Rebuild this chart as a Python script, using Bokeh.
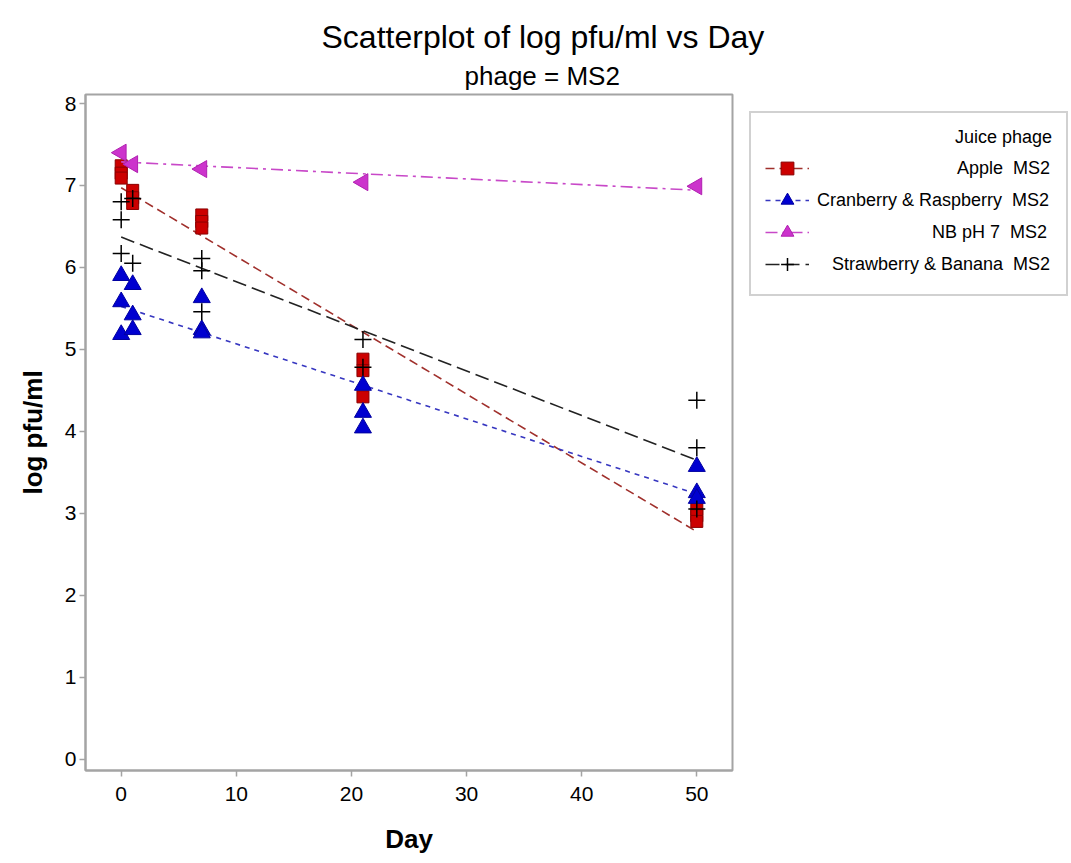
import numpy as np
from bokeh.plotting import figure
from bokeh.models import Legend, LegendItem, Title, Range1d, FixedTicker
from bokeh.embed import file_html
from bokeh.resources import INLINE

# ---- data ----
apple_day = [0, 0, 0, 1, 1, 1, 7, 7, 7, 21, 21, 21, 50, 50, 50]
apple_log = [7.24, 7.15, 7.09, 6.94, 6.85, 6.78, 6.64, 6.56, 6.48, 4.88, 4.74, 4.42, 3.05, 2.97, 2.90]

cran_day = [0, 0, 0, 1, 1, 1, 7, 7, 7, 21, 21, 21, 50, 50, 50]
cran_log = [5.90, 5.58, 5.18, 5.79, 5.42, 5.24, 5.63, 5.24, 5.20, 4.56, 4.23, 4.04, 3.57, 3.25, 3.18]

nb_day = [0, 1, 7, 21, 50]
nb_log = [7.40, 7.26, 7.20, 7.04, 6.99]

straw_day = [0, 0, 0, 1, 1, 7, 7, 7, 21, 21, 50, 50, 50]
straw_log = [6.80, 6.58, 6.17, 6.84, 6.05, 6.11, 5.96, 5.46, 5.12, 4.78, 4.38, 3.80, 3.05]

juice_names = ["Apple", "Cranberry & Raspberry", "NB pH 7", "Strawberry & Banana"]
phage = "MS2"
x_ticks = [0, 10, 20, 30, 40, 50]
y_ticks = [0, 1, 2, 3, 4, 5, 6, 7, 8]

FONT = "Liberation Sans"
GREY = "#a4a4a4"

p = figure(frame_width=647, frame_height=676, output_backend="svg", toolbar_location=None,
           x_range=Range1d(-3.1, 53.1), y_range=Range1d(-0.14, 8.11),
           min_border_left=85, min_border_right=0, min_border_top=94,
           min_border_bottom=93, background_fill_color="white",
           border_fill_color="white")
p.title = None
p.grid.visible = False
p.outline_line_color = GREY
p.outline_line_width = 2

for ax in (p.xaxis[0], p.yaxis[0]):
    ax.axis_line_color = GREY
    ax.axis_line_width = 2
    ax.major_tick_line_color = GREY
    ax.major_tick_line_width = 1.5
    ax.major_tick_out = 6
    ax.major_tick_in = 0
    ax.minor_tick_line_color = None
    ax.major_label_text_font = FONT
    ax.major_label_text_font_size = "21px"
    ax.major_label_text_color = "black"
    ax.axis_label_text_font = FONT
    ax.axis_label_text_font_size = "26px"
    ax.axis_label_text_font_style = "bold"
    ax.axis_label_text_color = "black"

p.xaxis.ticker = FixedTicker(ticks=x_ticks)
p.yaxis.ticker = FixedTicker(ticks=y_ticks)
p.xaxis.axis_label = "Day"
p.yaxis.axis_label = "log pfu/ml"
p.xaxis.major_label_standoff = 10
p.xaxis.axis_label_standoff = 20
p.yaxis.major_label_standoff = 3
p.yaxis.axis_label_standoff = 14

# titles (subtitle first -> closest to plot); shifted to be centred on the page
p.add_layout(Title(text="phage = " + phage, align="left", offset=379,
                   text_font=FONT, text_font_size="26px", text_font_style="normal",
                   text_color="black", standoff=8), "above")
p.add_layout(Title(text="Scatterplot of log pfu/ml vs Day", align="left", offset=236,
                   text_font=FONT, text_font_size="32px", text_font_style="normal",
                   text_color="black", standoff=0), "above")

groups = [
    (apple_day, apple_log, dict(marker="square", size=12, fill_color="#cc0000",
                                line_color="#8a0000"),
     dict(line_color="#a0302c", line_dash="9 5")),
    (cran_day, cran_log, dict(marker="triangle", size=17, fill_color="#0000d0",
                              line_color="#0000a0"),
     dict(line_color="#3636c0", line_dash="5 5")),
    (nb_day, nb_log, dict(marker="triangle", size=17, angle=np.pi / 2,
                          fill_color="#cc33cc", line_color="#b020b0"),
     dict(line_color="#c848c8", line_dash="12 5 3 5")),
    (straw_day, straw_log, dict(marker="cross", size=17, fill_color=None,
                                line_color="black", line_width=1.5),
     dict(line_color="#222222", line_dash="14 6")),
]

items = []
for name, (xd, yd, mk, ln) in zip(juice_names, groups):
    xs = np.array(xd, dtype=float)
    ys = np.array(yd, dtype=float)
    slope, intercept = np.polyfit(xs, ys, 1)
    fx = np.array([xs.min(), xs.max()])
    lr = p.line(fx, intercept + slope * fx, line_width=1.6, **ln)
    sr = p.scatter(xs, ys, **mk)
    items.append((name, lr, sr))

# right-aligned legend labels (padded with no-break spaces)
pad = {"Apple": 28, "Cranberry & Raspberry": 0, "NB pH 7": 23, "Strawberry & Banana": 3}
legend_items = [LegendItem(label="\u00a0" * pad[n] + n + "\u00a0\u00a0" + phage,
                           renderers=[lr, sr]) for n, lr, sr in items]
legend = Legend(items=legend_items, location="top_left",
                title="\u00a0" * 38 + "Juice phage",
                title_text_font=FONT, title_text_font_size="18px",
                title_text_font_style="normal", title_standoff=4,
                title_text_color="black",
                label_text_font=FONT, label_text_font_size="18px",
                label_text_color="black",
                glyph_width=44, glyph_height=32, label_standoff=8,
                spacing=0, padding=14, margin=17,
                border_line_color=GREY, border_line_width=2,
                background_fill_color="white", background_fill_alpha=1.0)
p.add_layout(legend, "right")

open("out.html", "w").write(file_html(p, INLINE))
